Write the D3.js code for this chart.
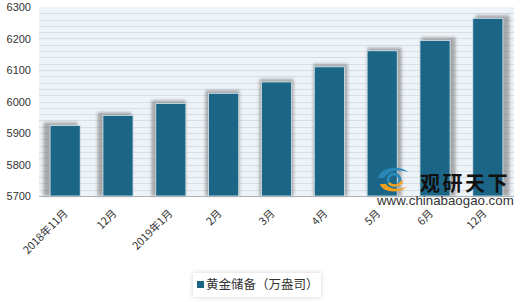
<!DOCTYPE html>
<html>
<head>
<meta charset="utf-8">
<script src="https://cdn.jsdelivr.net/npm/d3@7/dist/d3.min.js"></script>
<style>
  body { margin: 0; background: #fff; }
  svg { display: block; font-family: "Noto Sans CJK SC", "Noto Sans", sans-serif; }
</style>
</head>
<body>
<svg width="520" height="302"></svg>
<script>
// chart data
const categories = ['2018年11月', '12月', '2019年1月', '2月', '3月', '4月', '5月', '6月', '12月'];
const reserves = [5924, 5956, 5994, 6026, 6062, 6110, 6161, 6194, 6264];
const yTicks = [5700, 5800, 5900, 6000, 6100, 6200, 6300];
const seriesName = '黄金储备（万盎司）';

const svg = d3.select('svg');
const margin = { top: 7, right: 6, bottom: 106, left: 39 };
const width = +svg.attr('width');
const height = +svg.attr('height');
const innerWidth = width - margin.left - margin.right;
const innerHeight = height - margin.top - margin.bottom;

const defs = svg.append('defs');
defs.append('filter').attr('id', 'blur')
  .attr('x', '-50%').attr('y', '-50%').attr('width', '200%').attr('height', '200%')
  .append('feGaussianBlur').attr('stdDeviation', 1.5);
defs.append('filter').attr('id', 'legendShadow')
  .attr('x', '-20%').attr('y', '-50%').attr('width', '140%').attr('height', '200%')
  .append('feDropShadow').attr('dx', 0).attr('dy', 0).attr('stdDeviation', 2.5)
  .attr('flood-color', '#000').attr('flood-opacity', 0.18);

const x = d3.scaleBand().domain(d3.range(categories.length))
  .range([0, innerWidth]).paddingInner(0.43).paddingOuter(0.21);
const y = d3.scaleLinear().domain([5700, 6300]).range([innerHeight, 0]);

const g = svg.append('g').attr('transform', `translate(${margin.left},${margin.top})`);

// plot background with fine stripes
g.append('rect').attr('width', innerWidth).attr('height', innerHeight).attr('fill', '#eef3f7');
g.append('g').selectAll('line')
  .data(d3.range(5720, 6300, 20))
  .join('line')
  .attr('x1', 0).attr('x2', innerWidth)
  .attr('y1', (d) => Math.round(y(d)) + 0.5).attr('y2', (d) => Math.round(y(d)) + 0.5)
  .attr('stroke', '#d6dee6').attr('stroke-width', 1);

// bar shadows (lean outwards from the middle)
const mid = innerWidth / 2;
g.append('g').selectAll('rect')
  .data(reserves)
  .join('rect')
  .attr('x', (d, i) => x(i) + (x(i) + x.bandwidth() / 2 - mid) * 0.022 - 2)
  .attr('y', (d) => y(d) - 3)
  .attr('width', x.bandwidth() + 4)
  .attr('height', (d) => innerHeight - y(d) + 3)
  .attr('fill', '#777')
  .attr('opacity', 0.6)
  .attr('filter', 'url(#blur)');

// bars
g.append('g').selectAll('rect')
  .data(reserves)
  .join('rect')
  .attr('x', (d, i) => x(i))
  .attr('y', (d) => y(d))
  .attr('width', x.bandwidth())
  .attr('height', (d) => innerHeight - y(d))
  .attr('fill', '#1b6687')
  .attr('stroke', '#d9e6ee')
  .attr('stroke-width', 0.8);

// axes
const yAxis = g.append('g').call(d3.axisLeft(y).tickValues(yTicks).tickSize(0).tickPadding(8).tickFormat(d3.format('d')));
yAxis.select('.domain').remove();
yAxis.selectAll('text').attr('font-size', 11).attr('fill', '#333');

g.append('line')
  .attr('x1', 0).attr('x2', innerWidth)
  .attr('y1', innerHeight + 0.5).attr('y2', innerHeight + 0.5)
  .attr('stroke', '#aab3ba');

const xLabels = g.append('g').selectAll('text')
  .data(categories)
  .join('text')
  .attr('text-anchor', 'end')
  .attr('font-size', 10.8)
  .attr('fill', '#333')
  .text((d) => d);
// longer rotated labels sit a little further right of their tick
xLabels.attr('transform', function (d, i) {
  const len = this.getComputedTextLength();
  const cx = x(i) + x.bandwidth() / 2 - 3 + 0.11 * len;
  return `translate(${cx},${innerHeight + 18}) rotate(-45)`;
});

// watermark
const wm = svg.append('g');
wm.append('path')
  .attr('d', 'M380,184 C382,192 398,195 408,186 C402,190 390,190 386,184 Z')
  .attr('fill', '#f5a11c');
wm.append('path')
  .attr('d', 'M378,178 C380,168 398,164 408,172 C400,169 388,170 384,178 Z')
  .attr('fill', '#2a88b8');
wm.append('circle').attr('cx', 394).attr('cy', 180).attr('r', 6)
  .attr('fill', 'none').attr('stroke', '#2a88b8').attr('stroke-width', 3);
wm.append('path')
  .attr('d', 'M389,183 C392,187 400,186 402,181')
  .attr('fill', 'none').attr('stroke', '#f5a11c').attr('stroke-width', 2.5);
wm.append('text').attr('x', 420).attr('y', 191)
  .attr('font-size', 20).attr('font-weight', 'bold').attr('fill', '#111')
  .attr('letter-spacing', 2.5)
  .text('观研天下');
wm.append('text').attr('x', 377).attr('y', 205)
  .attr('font-family', 'Liberation Sans, Arial, sans-serif')
  .attr('font-size', 13.3).attr('fill', '#333')
  .text('www.chinabaogao.com');

// legend
const legend = svg.append('g');
legend.append('rect')
  .attr('x', 193).attr('y', 273).attr('width', 128).attr('height', 24)
  .attr('fill', '#fff').attr('filter', 'url(#legendShadow)');
legend.append('rect')
  .attr('x', 197).attr('y', 281).attr('width', 7).attr('height', 7)
  .attr('fill', '#1b6687');
legend.append('text')
  .attr('x', 206).attr('y', 285).attr('dy', '0.35em')
  .attr('font-size', 12.5).attr('fill', '#333')
  .text(seriesName);
</script>
</body>
</html>
